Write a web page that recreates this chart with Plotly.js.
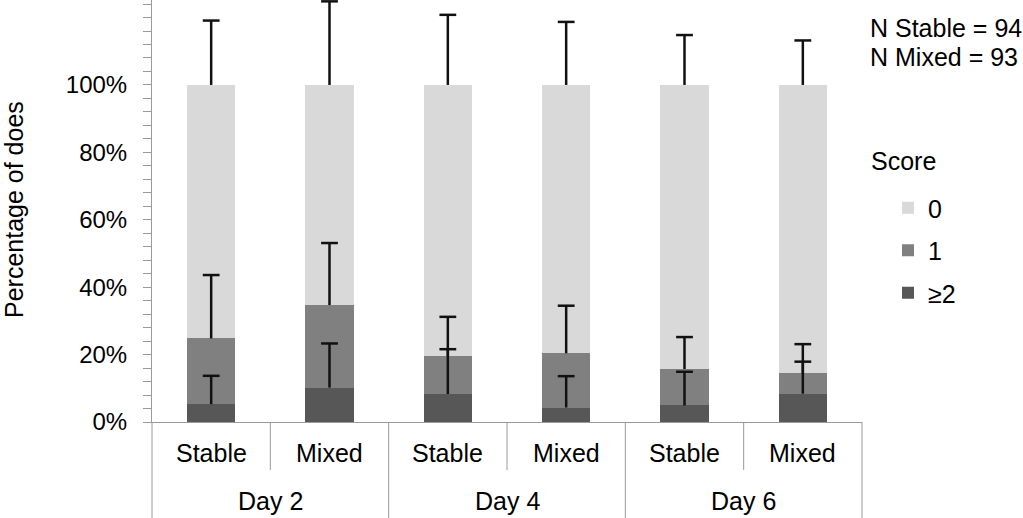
<!DOCTYPE html>
<html>
<head>
<meta charset="utf-8">
<script src="https://cdn.plot.ly/plotly-3.0.1.min.js"></script>
<style>
html,body{margin:0;padding:0;background:#fff;}
#chart{width:1023px;height:518px;}
</style>
</head>
<body>
<div id="chart"></div>
<script>
// ---- data ----
var days = ["Day 2", "Day 4", "Day 6"];
var groups = ["Stable", "Mixed", "Stable", "Mixed", "Stable", "Mixed"];
var scoreNames = ["≥2", "1", "0"];
var score2 = [5.3, 10.2, 8.3, 4.3, 4.9, 8.4];
var score1 = [19.5, 24.5, 11.3, 16.1, 10.8, 6.0];
var score0 = [75.2, 65.3, 80.4, 79.6, 84.3, 85.6];
var err2 = [8.4, 13.1, 13.3, 9.3, 10.0, 9.5];
var err1 = [18.8, 18.4, 11.6, 14.1, 9.5, 8.7];
var err0 = [19.1, 24.8, 20.8, 18.7, 14.8, 13.2];
var yTickVals = [0, 20, 40, 60, 80, 100];
var yTickText = ["0%", "20%", "40%", "60%", "80%", "100%"];
var nNotes = ["N Stable = 94", "N Mixed = 93"];

// ---- styling ----
var FONT = 'Arial, "Liberation Sans", sans-serif';
var FS = 25;
var colors = ["#575757", "#808080", "#d9d9d9"];
var axisGray = "#9a9a9a";

var xs = groups.map(function (_, i) { return i; });
var series = [score2, score1, score0];
var errs = [err2, err1, err0];

var traces = [];
var cum = xs.map(function () { return 0; });
var errTraces = [];
series.forEach(function (vals, k) {
  traces.push({
    type: "bar", x: xs, y: vals, name: scoreNames[k],
    legendgroup: "g" + k, legendrank: series.length - k,
    marker: { color: colors[k], line: { width: 0 } },
    width: 0.41, hoverinfo: "skip"
  });
  cum = cum.map(function (c, i) { return c + vals[i]; });
  var tops = cum.map(function (c, i) { return c + errs[k][i]; });
  errTraces.push({
    type: "scatter", mode: "markers", x: xs, y: tops, showlegend: false,
    marker: { symbol: "line-ew", size: 12, color: "#111", line: { width: 2.5, color: "#111" } },
    error_y: { type: "data", symmetric: false, array: xs.map(function () { return 0; }),
               arrayminus: errs[k], width: 0, thickness: 2.5, color: "#111" },
    hoverinfo: "skip"
  });
});
traces = traces.concat(errTraces);

var annotations = [];
groups.forEach(function (g, i) {
  annotations.push({ x: i, xref: "x", y: -31 / 422, yref: "paper", text: g, showarrow: false,
    yanchor: "middle", font: { family: FONT, size: FS, color: "#000" } });
});
days.forEach(function (d, j) {
  annotations.push({ x: 2 * j + 0.5, xref: "x", y: -79 / 422, yref: "paper", text: d, showarrow: false,
    yanchor: "middle", font: { family: FONT, size: FS, color: "#000" } });
});
nNotes.forEach(function (t, j) {
  annotations.push({ x: 716 / 710, xref: "paper", y: (394 - j * 29) / 422, yref: "paper", text: t,
    showarrow: false, xanchor: "left", yanchor: "middle", font: { family: FONT, size: FS, color: "#000" } });
});
annotations.push({ x: 717 / 710, xref: "paper", y: 261 / 422, yref: "paper", text: "Score",
  showarrow: false, xanchor: "left", yanchor: "middle", font: { family: FONT, size: FS, color: "#000" } });
annotations.push({ x: -138 / 710, xref: "paper", y: 212 / 422, yref: "paper", text: "Percentage of does",
  textangle: -90, showarrow: false, xanchor: "center", yanchor: "middle",
  font: { family: FONT, size: FS, color: "#000" } });

var shapes = [];
for (var k = 0; k <= groups.length; k++) {
  var longLine = (k % 2 === 0);
  shapes.push({ type: "line", xref: "paper", yref: "paper", x0: k / groups.length, x1: k / groups.length,
    y0: 0, y1: longLine ? -96 / 422 : -48 / 422, line: { color: axisGray, width: 1 } });
}

var layout = {
  width: 1023, height: 518,
  margin: { l: 152, r: 161, t: 0, b: 96, pad: 0 },
  paper_bgcolor: "#fff", plot_bgcolor: "#fff",
  barmode: "stack",
  showlegend: true,
  font: { family: FONT, size: FS, color: "#000" },
  legend: {
    x: 736 / 710, xanchor: "left", y: 237 / 422, yanchor: "top",
    traceorder: "grouped", tracegroupgap: 7,
    font: { family: FONT, size: FS, color: "#000" },
    bgcolor: "rgba(0,0,0,0)"
  },
  xaxis: {
    range: [-0.5, 5.5], showline: true, linecolor: axisGray, linewidth: 1,
    showticklabels: false, ticks: "", showgrid: false, zeroline: false, fixedrange: true
  },
  yaxis: {
    range: [0, 125.2], showline: true, linecolor: axisGray, linewidth: 1,
    tickvals: yTickVals, ticktext: yTickText, ticks: "outside", ticklen: 8, tickcolor: axisGray,
    ticklabelstandoff: 11,
    minor: { dtick: 4, tick0: 0, ticks: "outside", ticklen: 8, tickcolor: axisGray, showgrid: false },
    showgrid: false, zeroline: false, fixedrange: true,
    tickfont: { family: FONT, size: 24, color: "#000" }
  },
  annotations: annotations,
  shapes: shapes,
  hovermode: false
};

Plotly.newPlot("chart", traces, layout, { displayModeBar: false, staticPlot: true });
</script>
</body>
</html>
